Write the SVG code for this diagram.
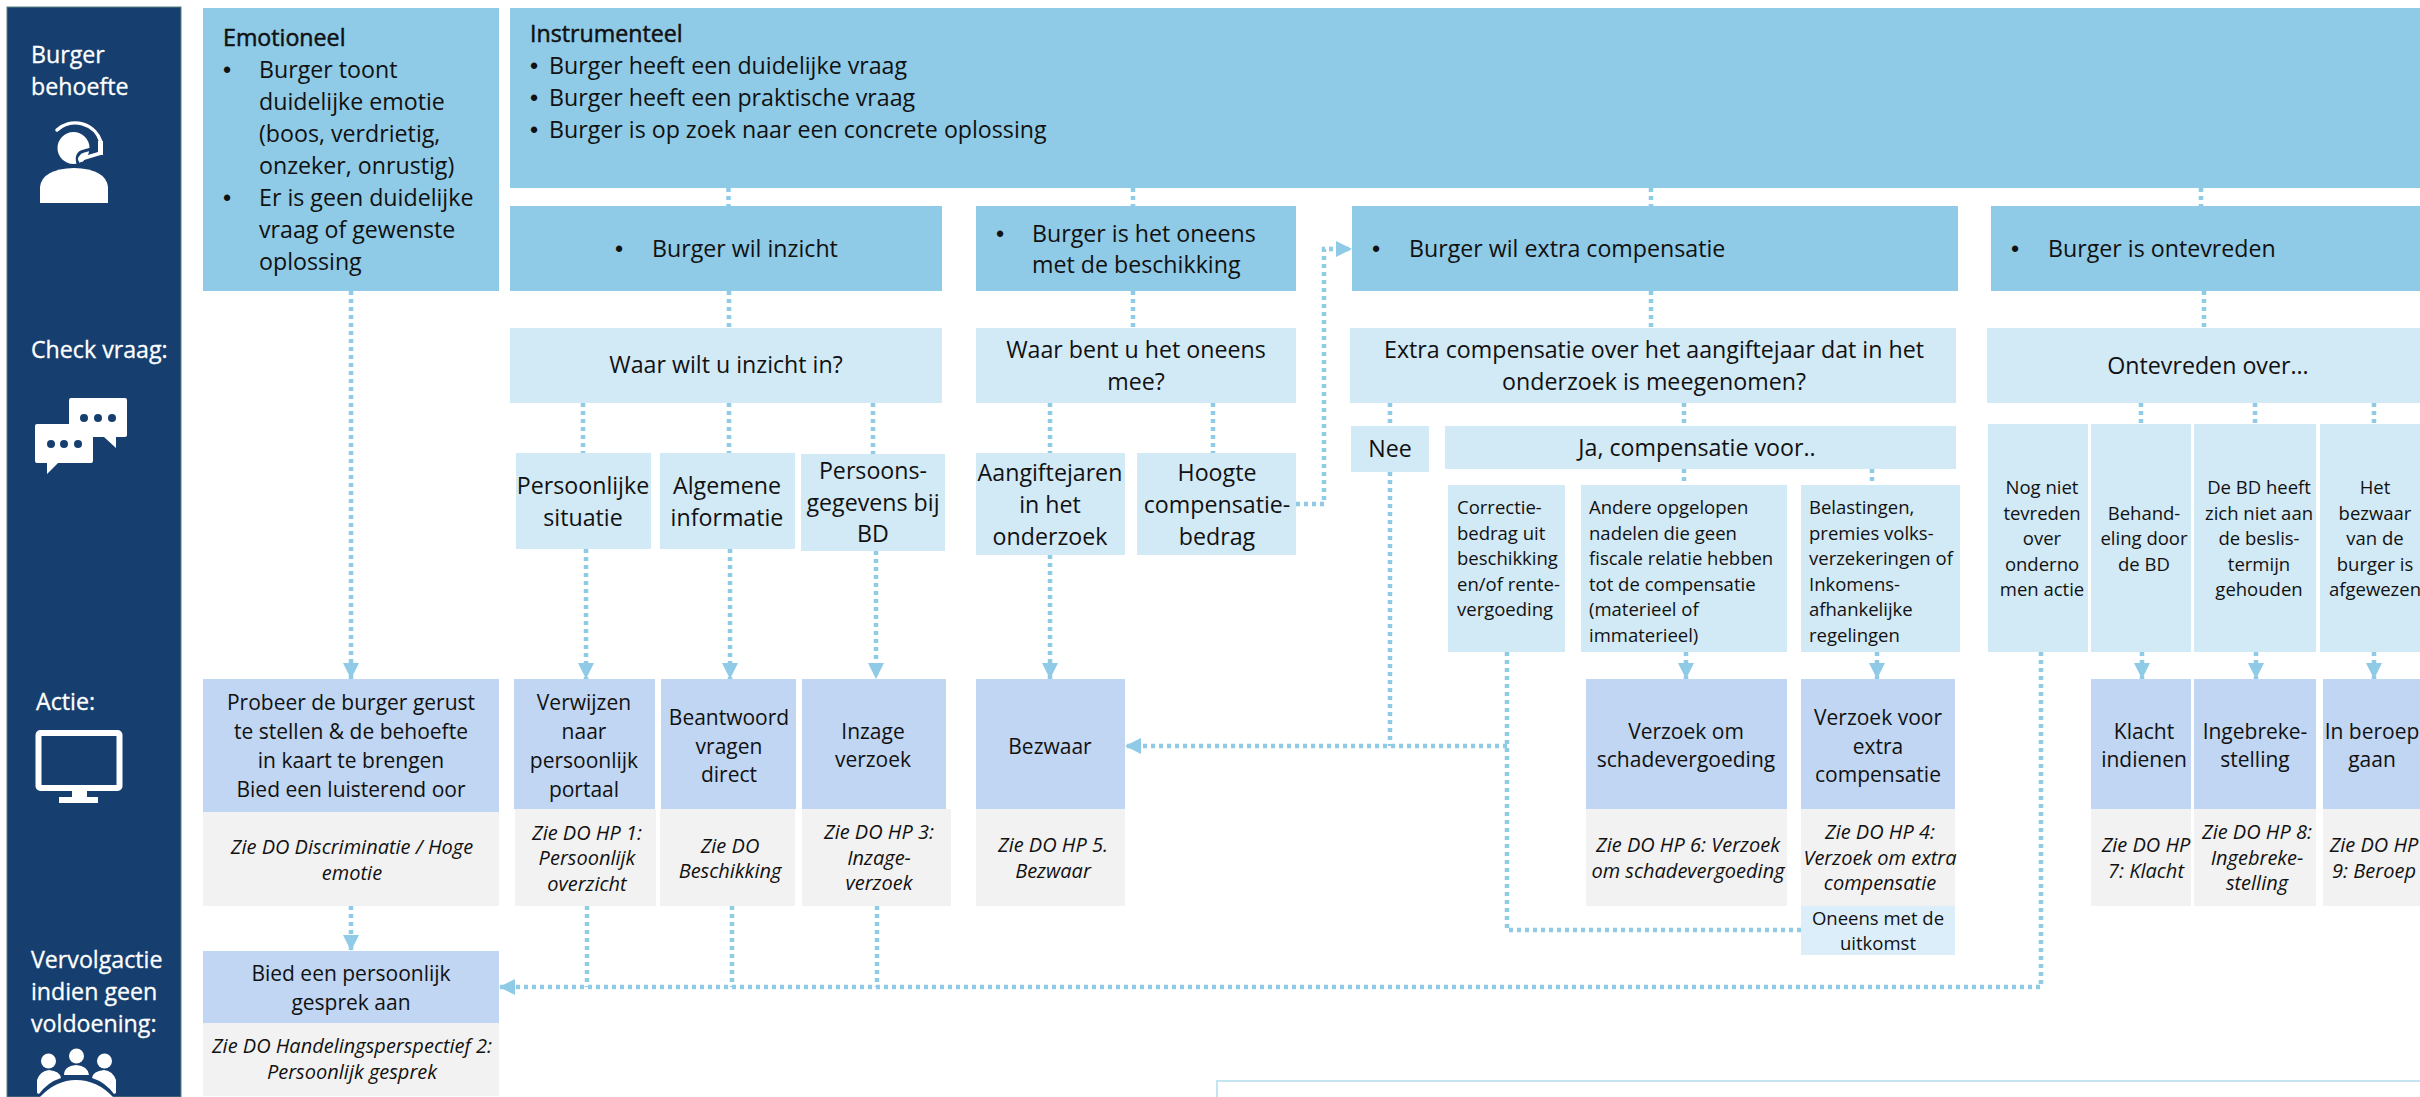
<svg xmlns="http://www.w3.org/2000/svg" width="2420" height="1097" viewBox="0 0 2420 1097">
<style>
text{font-family:"Open Sans","Noto Sans","Liberation Sans",sans-serif;font-size:23.200px;fill:#111}
g[id^="a-"] text:not(.i){font-size:21px}
.m{text-anchor:middle}
text.s{font-size:18.500px}
text.i{font-size:20px;font-style:italic;text-anchor:middle}
text.w{fill:#fff;stroke:#fff;stroke-width:.3}
text.b{stroke:#111;stroke-width:.5}
text.p{font-family:"Liberation Sans",sans-serif}
.h{fill:#8fcae7}.q{fill:#d2e9f6}.a{fill:#c0d6f3}.g{fill:#f2f2f2}.l{fill:#dceefa}
.c{fill:none;stroke:#8fcae7;stroke-width:4.500;stroke-dasharray:4 4}
.ah{fill:#8fcae7}
.ic{fill:#fff}
</style>
<defs><marker id="arr" markerUnits="userSpaceOnUse" markerWidth="16" markerHeight="16" refX="16" refY="8" orient="auto"><path d="M0 0L16 8L0 16Z" class="ah"/></marker></defs>

<g id="sidebar">
<rect x="7" y="7" width="174" height="1090" fill="#163f70" stroke="#5f8080" stroke-width="1"/>
<text class="w" x="31" y="63">Burger</text><text class="w" x="31" y="95">behoefte</text>
<text class="w" x="31" y="358">Check vraag:</text>
<text class="w" x="36" y="710">Actie:</text>
<text class="w" x="31" y="968">Vervolgactie</text><text class="w" x="31" y="1000">indien geen</text><text class="w" x="31" y="1032">voldoening:</text>
<g id="icon-person"><circle class="ic" cx="73.500" cy="148" r="16"/><path class="ic" d="M40 203V187Q42 169 74 168Q106 169 108 187V203Z"/><path d="M57 130A27 27 0 0 1 101 142" fill="none" stroke="#fff" stroke-width="3.500" stroke-linecap="round"/><path d="M78 164Q75 153 84 151L99 147" fill="none" stroke="#163f70" stroke-width="3"/><rect class="ic" x="98" y="141" width="5" height="14"/><path d="M101 153L81 159" fill="none" stroke="#fff" stroke-width="3.500" stroke-linecap="round"/><circle class="ic" cx="81" cy="159" r="3"/></g>
<g id="icon-chat"><path class="ic" d="M71 398H125Q127 398 127 400V435Q127 437 125 437H116V448L104 437H71Q69 437 69 435V400Q69 398 71 398Z"/><path class="ic" d="M37 424H91Q93 424 93 426V461Q93 463 91 463H58L47 474V463H37Q35 463 35 461V426Q35 424 37 424Z"/><g fill="#163f70"><circle cx="84" cy="418" r="4"/><circle cx="98" cy="418" r="4"/><circle cx="112" cy="418" r="4"/><circle cx="51" cy="444" r="4"/><circle cx="64" cy="444" r="4"/><circle cx="78" cy="444" r="4"/></g></g>
<g id="icon-monitor"><rect x="38.500" y="733" width="81" height="55" rx="2" fill="none" stroke="#fff" stroke-width="6"/><rect class="ic" x="72" y="790" width="15" height="8"/><rect class="ic" x="59" y="797" width="39" height="6"/></g>
<g id="icon-group"><circle class="ic" cx="48.500" cy="1061" r="7.500"/><circle class="ic" cx="76.500" cy="1056" r="7.500"/><circle class="ic" cx="104.500" cy="1061" r="7.500"/><path class="ic" d="M64 1075Q64 1066 76 1065Q88 1066 89 1075Z"/><path class="ic" d="M37 1093V1080Q40 1071 49 1070Q60 1071 61 1078Q48 1082 39 1094Z"/><path class="ic" d="M116 1093V1080Q113 1071 104 1070Q93 1071 92 1078Q105 1082 114 1094Z"/><path class="ic" d="M40 1097Q56 1080 76 1080Q97 1080 113 1097Z"/></g>
</g>

<g id="connectors">
<path class="c" d="M351 291V679" marker-end="url(#arr)"/>
<path class="c" d="M351 906V951" marker-end="url(#arr)"/>
<path class="c" d="M728.500 188V206M729 291V328M583 403V453M729 403V453M873 403V454"/>
<path class="c" d="M586 549V679" marker-end="url(#arr)"/>
<path class="c" d="M730 549V679" marker-end="url(#arr)"/>
<path class="c" d="M876 551V679" marker-end="url(#arr)"/>
<path class="c" d="M1133 188V206M1133 291V328M1050 403V453M1213 403V453"/>
<path class="c" d="M1050 555V679" marker-end="url(#arr)"/>
<path class="c" d="M1296 504H1324V249H1352" marker-end="url(#arr)"/>
<path class="c" d="M1651 188V206M1651 291V328M1390 403V426M1684 403V426M1684 469V485M1872 469V485"/>
<path class="c" d="M1390 472V746"/>
<path class="c" d="M1507 746H1125" marker-end="url(#arr)"/>
<path class="c" d="M1507 652V930H1801"/>
<path class="c" d="M1686 652V679" marker-end="url(#arr)"/>
<path class="c" d="M1877 652V679" marker-end="url(#arr)"/>
<path class="c" d="M2201 188V206M2204 291V328M2141 403V424M2255 403V424M2374 403V424"/>
<path class="c" d="M2142 652V679" marker-end="url(#arr)"/>
<path class="c" d="M2256 652V679" marker-end="url(#arr)"/>
<path class="c" d="M2374 652V679" marker-end="url(#arr)"/>
<path class="c" d="M2041 652V987H499" marker-end="url(#arr)"/>
<path class="c" d="M587 906V987M732 906V987M877 906V987"/>
</g>

<g id="emotioneel"><rect class="h" x="203" y="8" width="296" height="283"/>
<text class="b" x="223" y="46">Emotioneel</text>
<text class="p" x="223" y="78">•</text><text x="259" y="78">Burger toont</text><text x="259" y="110">duidelijke emotie</text><text x="259" y="142">(boos, verdrietig,</text><text x="259" y="174">onzeker, onrustig)</text>
<text class="p" x="223" y="206">•</text><text x="259" y="206">Er is geen duidelijke</text><text x="259" y="238">vraag of gewenste</text><text x="259" y="270">oplossing</text></g>
<g id="instrumenteel"><rect class="h" x="510" y="8" width="1910" height="180"/>
<text class="b" x="530" y="42">Instrumenteel</text>
<text class="p" x="530" y="74">•</text><text x="549" y="74">Burger heeft een duidelijke vraag</text>
<text class="p" x="530" y="106">•</text><text x="549" y="106">Burger heeft een praktische vraag</text>
<text class="p" x="530" y="138">•</text><text x="549" y="138">Burger is op zoek naar een concrete oplossing</text></g>

<g id="inzicht"><rect class="h" x="510" y="206" width="432" height="85"/><text class="p" x="615" y="257">•</text><text x="652" y="257">Burger wil inzicht</text></g>
<g id="oneens"><rect class="h" x="976" y="206" width="320" height="85"/><text class="p" x="996" y="242">•</text><text x="1032" y="242">Burger is het oneens</text><text x="1032" y="273">met de beschikking</text></g>
<g id="extra"><rect class="h" x="1352" y="206" width="606" height="85"/><text class="p" x="1372" y="257">•</text><text x="1409" y="257">Burger wil extra compensatie</text></g>
<g id="ontevreden"><rect class="h" x="1991" y="206" width="429" height="85"/><text class="p" x="2011" y="257">•</text><text x="2048" y="257">Burger is ontevreden</text></g>

<g id="q-inzicht"><rect class="q" x="510" y="328" width="432" height="75"/><text class="m" x="726" y="373">Waar wilt u inzicht in?</text></g>
<g id="q-oneens"><rect class="q" x="976" y="328" width="320" height="75"/><text class="m" x="1136" y="358">Waar bent u het oneens</text><text class="m" x="1136" y="390">mee?</text></g>
<g id="q-extra"><rect class="q" x="1350" y="328" width="606" height="75"/><text class="m" x="1654" y="358">Extra compensatie over het aangiftejaar dat in het</text><text class="m" x="1654" y="390">onderzoek is meegenomen?</text></g>
<g id="q-ontevreden"><rect class="q" x="1987" y="328" width="433" height="75"/><text class="m" x="2208" y="374">Ontevreden over...</text></g>

<g id="persoonlijke"><rect class="q" x="516" y="453" width="135" height="96"/><text class="m" x="583" y="494">Persoonlijke</text><text class="m" x="583" y="526">situatie</text></g>
<g id="algemene"><rect class="q" x="660" y="453" width="135" height="96"/><text class="m" x="727" y="494">Algemene</text><text class="m" x="727" y="526">informatie</text></g>
<g id="persoons"><rect class="q" x="801" y="454" width="144" height="97"/><text class="m" x="873" y="479">Persoons-</text><text class="m" x="873" y="511">gegevens bij</text><text class="m" x="873" y="542">BD</text></g>
<g id="aangifte"><rect class="q" x="976" y="453" width="149" height="102"/><text class="m" x="1050" y="481">Aangiftejaren</text><text class="m" x="1050" y="513">in het</text><text class="m" x="1050" y="545">onderzoek</text></g>
<g id="hoogte"><rect class="q" x="1137" y="453" width="159" height="102"/><text class="m" x="1217" y="481">Hoogte</text><text class="m" x="1217" y="513">compensatie-</text><text class="m" x="1217" y="545">bedrag</text></g>
<g id="nee"><rect class="q" x="1351" y="426" width="78" height="46"/><text class="m" x="1390" y="457">Nee</text></g>
<g id="ja"><rect class="q" x="1445" y="426" width="511" height="43"/><text class="m" x="1697" y="456">Ja, compensatie voor..</text></g>

<g id="correctie"><rect class="q" x="1448" y="485" width="117" height="167"/><text class="s" x="1457" y="514">Correctie-</text><text class="s" x="1457" y="540">bedrag uit</text><text class="s" x="1457" y="565">beschikking</text><text class="s" x="1457" y="591">en/of rente-</text><text class="s" x="1457" y="616">vergoeding</text></g>
<g id="andere"><rect class="q" x="1581" y="485" width="206" height="167"/><text class="s" x="1589" y="514">Andere opgelopen</text><text class="s" x="1589" y="540">nadelen die geen</text><text class="s" x="1589" y="565">fiscale relatie hebben</text><text class="s" x="1589" y="591">tot de compensatie</text><text class="s" x="1589" y="616">(materieel of</text><text class="s" x="1589" y="642">immaterieel)</text></g>
<g id="belastingen"><rect class="q" x="1801" y="485" width="159" height="167"/><text class="s" x="1809" y="514">Belastingen,</text><text class="s" x="1809" y="540">premies volks-</text><text class="s" x="1809" y="565">verzekeringen of</text><text class="s" x="1809" y="591">Inkomens-</text><text class="s" x="1809" y="616">afhankelijke</text><text class="s" x="1809" y="642">regelingen</text></g>

<g id="nog"><rect class="q" x="1988" y="424" width="100" height="228"/><text class="s m" x="2042" y="494">Nog niet</text><text class="s m" x="2042" y="520">tevreden</text><text class="s m" x="2042" y="545">over</text><text class="s m" x="2042" y="571">onderno</text><text class="s m" x="2042" y="596">men actie</text></g>
<g id="behand"><rect class="q" x="2091" y="424" width="100" height="228"/><text class="s m" x="2144" y="520">Behand-</text><text class="s m" x="2144" y="545">eling door</text><text class="s m" x="2144" y="571">de BD</text></g>
<g id="debd"><rect class="q" x="2194" y="424" width="122" height="228"/><text class="s m" x="2259" y="494">De BD heeft</text><text class="s m" x="2259" y="520">zich niet aan</text><text class="s m" x="2259" y="545">de beslis-</text><text class="s m" x="2259" y="571">termijn</text><text class="s m" x="2259" y="596">gehouden</text></g>
<g id="het"><rect class="q" x="2320" y="424" width="100" height="228"/><text class="s m" x="2375" y="494">Het</text><text class="s m" x="2375" y="520">bezwaar</text><text class="s m" x="2375" y="545">van de</text><text class="s m" x="2375" y="571">burger is</text><text class="s m" x="2375" y="596">afgewezen</text></g>

<g id="a-probeer"><rect class="a" x="203" y="679" width="296" height="133"/><rect class="g" x="203" y="812" width="296" height="94"/><text class="m" x="351" y="710">Probeer de burger gerust</text><text class="m" x="351" y="739">te stellen &amp; de behoefte</text><text class="m" x="351" y="768">in kaart te brengen</text><text class="m" x="351" y="797">Bied een luisterend oor</text><text class="i" x="352" y="854">Zie DO Discriminatie / Hoge</text><text class="i" x="352" y="880">emotie</text></g>
<g id="a-verwijzen"><rect class="a" x="514" y="679" width="141" height="130"/><rect class="g" x="515" y="809" width="141" height="97"/><text class="m" x="584" y="710">Verwijzen</text><text class="m" x="584" y="739">naar</text><text class="m" x="584" y="768">persoonlijk</text><text class="m" x="584" y="797">portaal</text><text class="i" x="587" y="840">Zie DO HP 1:</text><text class="i" x="587" y="865">Persoonlijk</text><text class="i" x="587" y="891">overzicht</text></g>
<g id="a-beantwoord"><rect class="a" x="661" y="679" width="135" height="130"/><rect class="g" x="660" y="809" width="135" height="97"/><text class="m" x="729" y="725">Beantwoord</text><text class="m" x="729" y="754">vragen</text><text class="m" x="729" y="782">direct</text><text class="i" x="730" y="853">Zie DO</text><text class="i" x="730" y="878">Beschikking</text></g>
<g id="a-inzage"><rect class="a" x="802" y="679" width="144" height="130"/><rect class="g" x="802" y="809" width="149" height="97"/><text class="m" x="873" y="739">Inzage</text><text class="m" x="873" y="767">verzoek</text><text class="i" x="879" y="839">Zie DO HP 3:</text><text class="i" x="879" y="865">Inzage-</text><text class="i" x="879" y="890">verzoek</text></g>
<g id="a-bezwaar"><rect class="a" x="976" y="679" width="149" height="130"/><rect class="g" x="976" y="809" width="149" height="97"/><text class="m" x="1050" y="754">Bezwaar</text><text class="i" x="1053" y="852">Zie DO HP 5.</text><text class="i" x="1053" y="878">Bezwaar</text></g>
<g id="a-schade"><rect class="a" x="1586" y="679" width="201" height="130"/><rect class="g" x="1586" y="809" width="201" height="97"/><text class="m" x="1686" y="739">Verzoek om</text><text class="m" x="1686" y="767">schadevergoeding</text><text class="i" x="1688" y="852">Zie DO HP 6: Verzoek</text><text class="i" x="1688" y="878">om schadevergoeding</text></g>
<g id="a-compensatie"><rect class="a" x="1801" y="679" width="154" height="130"/><rect class="g" x="1801" y="809" width="154" height="97"/><text class="m" x="1878" y="725">Verzoek voor</text><text class="m" x="1878" y="754">extra</text><text class="m" x="1878" y="782">compensatie</text><text class="i" x="1880" y="839">Zie DO HP 4:</text><text class="i" x="1880" y="865">Verzoek om extra</text><text class="i" x="1880" y="890">compensatie</text></g>
<g id="uitkomst"><rect class="l" x="1801" y="906" width="154" height="49"/><text class="s m" x="1878" y="925">Oneens met de</text><text class="s m" x="1878" y="950">uitkomst</text></g>
<g id="a-klacht"><rect class="a" x="2091" y="679" width="100" height="130"/><rect class="g" x="2091" y="809" width="100" height="97"/><text class="m" x="2144" y="739">Klacht</text><text class="m" x="2144" y="767">indienen</text><text class="i" x="2146" y="852">Zie DO HP</text><text class="i" x="2146" y="878">7: Klacht</text></g>
<g id="a-ingebreke"><rect class="a" x="2194" y="679" width="122" height="130"/><rect class="g" x="2194" y="809" width="122" height="97"/><text class="m" x="2255" y="739">Ingebreke-</text><text class="m" x="2255" y="767">stelling</text><text class="i" x="2257" y="839">Zie DO HP 8:</text><text class="i" x="2257" y="865">Ingebreke-</text><text class="i" x="2257" y="890">stelling</text></g>
<g id="a-beroep"><rect class="a" x="2323" y="679" width="97" height="130"/><rect class="g" x="2323" y="809" width="97" height="97"/><text class="m" x="2372" y="739">In beroep</text><text class="m" x="2372" y="767">gaan</text><text class="i" x="2374" y="852">Zie DO HP</text><text class="i" x="2374" y="878">9: Beroep</text></g>
<g id="a-gesprek"><rect class="a" x="203" y="951" width="296" height="72"/><rect class="g" x="203" y="1023" width="296" height="73"/><text class="m" x="351" y="981">Bied een persoonlijk</text><text class="m" x="351" y="1010">gesprek aan</text><text class="i" x="352" y="1053">Zie DO Handelingsperspectief 2:</text><text class="i" x="352" y="1079">Persoonlijk gesprek</text></g>
<g id="legend"><path d="M1217 1097V1081H2420" fill="#fff" stroke="#c5e4f2" stroke-width="2"/></g>
</svg>
